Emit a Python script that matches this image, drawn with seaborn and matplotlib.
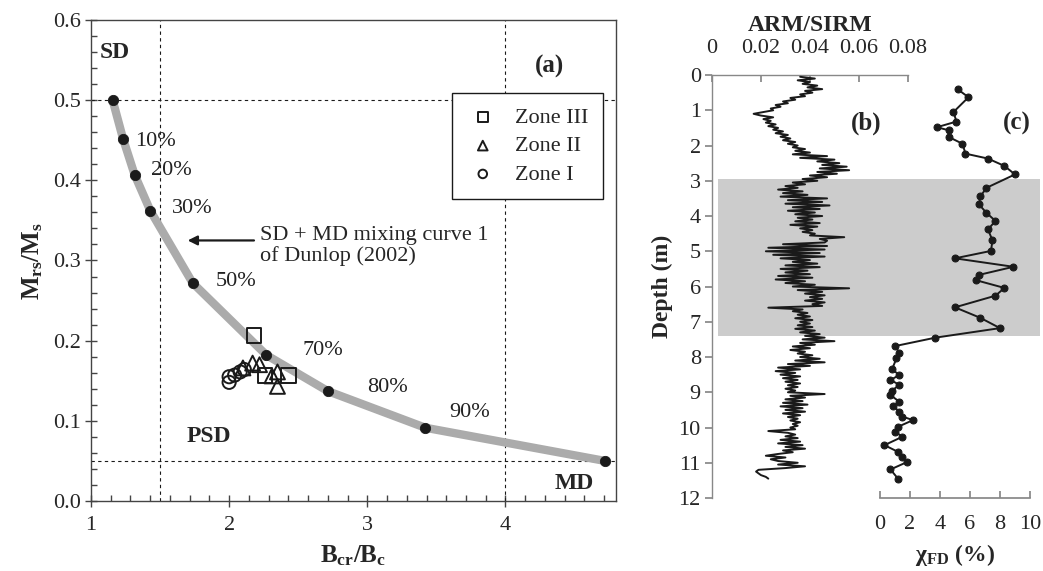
import numpy as np
import pandas as pd
import matplotlib
matplotlib.use("Agg")
import matplotlib.pyplot as plt
import seaborn as sns
from matplotlib.ticker import FixedLocator, FixedFormatter, AutoMinorLocator

# ---------------- data: panel (a) ----------------
bcr_curve = [1.157, 1.232, 1.316, 1.43, 1.736, 2.27, 2.715, 3.42, 4.72]
mrs_curve = [0.500, 0.452, 0.407, 0.362, 0.272, 0.182, 0.137, 0.0914, 0.050]
pct_labels = ["10%", "20%", "30%", "50%", "70%", "80%", "90%"]
pct_x = [1.32, 1.436, 1.586, 1.90, 2.53, 3.00, 3.59]
pct_y = [0.448, 0.412, 0.365, 0.274, 0.188, 0.141, 0.111]

z3_x = [2.18, 2.43, 2.26]
z3_y = [0.206, 0.157, 0.157]
z2_x = [2.17, 2.22, 2.31, 2.35, 2.35, 2.10]
z2_y = [0.172, 0.170, 0.156, 0.161, 0.143, 0.166]
z1_x = [2.00, 2.00, 2.04, 2.08, 2.11]
z1_y = [0.155, 0.148, 0.157, 0.161, 0.164]

a_xticks = [1, 2, 3, 4]
a_xticklabels = ["1", "2", "3", "4"]
a_yticks = [0.0, 0.1, 0.2, 0.3, 0.4, 0.5, 0.6]
a_yticklabels = ["0.0", "0.1", "0.2", "0.3", "0.4", "0.5", "0.6"]

# ---------------- data: panel (b) ----------------
depth_b = [
    0.05, 0.10, 0.15, 0.20, 0.25, 0.30, 0.35, 0.40, 0.45, 0.50, 0.55, 0.60, 0.65, 0.70, 0.75, 0.80, 0.85, 0.90, 0.95, 1.00,
    1.05, 1.10, 1.15, 1.20, 1.25, 1.30, 1.35, 1.40, 1.45, 1.50, 1.55, 1.60, 1.65, 1.70, 1.75, 1.80, 1.85, 1.90, 1.95, 2.00,
    2.05, 2.10, 2.15, 2.20, 2.25, 2.30, 2.35, 2.40, 2.45, 2.50, 2.55, 2.60, 2.65, 2.70, 2.75, 2.80, 2.85, 2.90, 2.95, 3.00,
    3.05, 3.10, 3.15, 3.20, 3.25, 3.30, 3.35, 3.40, 3.45, 3.50, 3.55, 3.60, 3.65, 3.70, 3.75, 3.80, 3.85, 3.90, 3.95, 4.00,
    4.05, 4.10, 4.15, 4.20, 4.25, 4.30, 4.35, 4.40, 4.45, 4.50, 4.55, 4.60, 4.65, 4.70, 4.75, 4.80, 4.85, 4.90, 4.95, 5.00,
    5.05, 5.10, 5.15, 5.20, 5.25, 5.30, 5.35, 5.40, 5.45, 5.50, 5.55, 5.60, 5.65, 5.70, 5.75, 5.80, 5.85, 5.90, 5.95, 6.00,
    6.05, 6.10, 6.15, 6.20, 6.25, 6.30, 6.35, 6.40, 6.45, 6.50, 6.55, 6.60, 6.65, 6.70, 6.75, 6.80, 6.85, 6.90, 6.95, 7.00,
    7.05, 7.10, 7.15, 7.20, 7.25, 7.30, 7.35, 7.40, 7.45, 7.50, 7.55, 7.60, 7.65, 7.70, 7.75, 7.80, 7.85, 7.90, 7.95, 8.00,
    8.05, 8.10, 8.15, 8.20, 8.25, 8.30, 8.35, 8.40, 8.45, 8.50, 8.55, 8.60, 8.65, 8.70, 8.75, 8.80, 8.85, 8.90, 8.95, 9.00,
    9.05, 9.10, 9.15, 9.20, 9.25, 9.30, 9.35, 9.40, 9.45, 9.50, 9.55, 9.60, 9.65, 9.70, 9.75, 9.80, 9.85, 9.90, 9.95, 10.00,
    10.05, 10.10, 10.15, 10.20, 10.25, 10.30, 10.35, 10.40, 10.45, 10.50, 10.55, 10.60, 10.65, 10.70, 10.75, 10.80, 10.85, 10.90, 10.95, 11.00,
    11.05, 11.10, 11.15, 11.20, 11.25, 11.30, 11.35, 11.40, 11.45,
]
arm_b = [
    0.036, 0.042, 0.035, 0.040, 0.037, 0.043, 0.039, 0.045, 0.038, 0.041, 0.036, 0.038, 0.032, 0.034, 0.029, 0.031, 0.026, 0.028, 0.024, 0.025,
    0.021, 0.017, 0.020, 0.025, 0.021, 0.024, 0.022, 0.026, 0.023, 0.027, 0.025, 0.029, 0.026, 0.031, 0.028, 0.032, 0.029, 0.034, 0.031, 0.035,
    0.033, 0.038, 0.034, 0.040, 0.033, 0.047, 0.036, 0.050, 0.043, 0.052, 0.045, 0.055, 0.044, 0.056, 0.043, 0.051, 0.040, 0.047, 0.037, 0.043,
    0.033, 0.038, 0.030, 0.035, 0.027, 0.037, 0.029, 0.039, 0.028, 0.047, 0.031, 0.045, 0.030, 0.048, 0.033, 0.044, 0.031, 0.042, 0.034, 0.045,
    0.035, 0.041, 0.034, 0.044, 0.032, 0.043, 0.036, 0.041, 0.037, 0.042, 0.040, 0.054, 0.044, 0.047, 0.046, 0.029, 0.047, 0.023, 0.046, 0.022,
    0.044, 0.025, 0.046, 0.028, 0.040, 0.033, 0.043, 0.030, 0.044, 0.028, 0.039, 0.030, 0.040, 0.027, 0.041, 0.026, 0.038, 0.030, 0.042, 0.033,
    0.056, 0.035, 0.045, 0.038, 0.046, 0.040, 0.045, 0.038, 0.046, 0.041, 0.045, 0.023, 0.037, 0.033, 0.039, 0.035, 0.040, 0.034, 0.041, 0.036,
    0.040, 0.035, 0.041, 0.034, 0.042, 0.036, 0.044, 0.038, 0.046, 0.037, 0.050, 0.036, 0.042, 0.033, 0.040, 0.032, 0.038, 0.035, 0.041, 0.036,
    0.044, 0.034, 0.046, 0.031, 0.040, 0.027, 0.036, 0.026, 0.034, 0.028, 0.036, 0.029, 0.035, 0.030, 0.036, 0.031, 0.035, 0.030, 0.034, 0.031,
    0.046, 0.032, 0.038, 0.030, 0.037, 0.029, 0.039, 0.028, 0.037, 0.030, 0.038, 0.029, 0.036, 0.031, 0.035, 0.032, 0.036, 0.033, 0.035, 0.032,
    0.034, 0.023, 0.031, 0.034, 0.030, 0.035, 0.028, 0.036, 0.027, 0.037, 0.030, 0.038, 0.029, 0.033, 0.027, 0.022, 0.030, 0.024, 0.027, 0.035,
    0.027, 0.038, 0.030, 0.019, 0.018, 0.019, 0.020, 0.022, 0.023,
]
arm_ticks = [0, 0.02, 0.04, 0.06, 0.08]
arm_ticklabels = ["0", "0.02", "0.04", "0.06", "0.08"]
depth_ticks = list(range(0, 13))
depth_ticklabels = [str(d) for d in depth_ticks]
shade_top, shade_bottom = 2.95, 7.40

# ---------------- data: panel (c) ----------------
depth_c = [0.41, 0.63, 1.05, 1.32, 1.48, 1.57, 1.76, 1.95, 2.23, 2.37, 2.58, 2.82,
           3.20, 3.44, 3.67, 3.91, 4.14, 4.38, 4.69, 4.99, 5.20, 5.44, 5.67, 5.82,
           6.04, 6.26, 6.59, 6.89, 7.18, 7.45, 7.69, 7.88, 8.04, 8.35, 8.51, 8.65,
           8.79, 8.95, 9.08, 9.27, 9.40, 9.55, 9.69, 9.79, 9.98, 10.12, 10.26, 10.50,
           10.69, 10.85, 10.98, 11.19, 11.45]
chi_c = [5.2, 5.9, 4.9, 5.1, 3.8, 4.6, 4.6, 5.5, 5.7, 7.2, 8.3, 9.0,
         7.1, 6.7, 6.6, 7.1, 7.7, 7.2, 7.5, 7.4, 5.0, 8.9, 6.6, 6.4,
         8.3, 7.7, 5.0, 6.7, 8.0, 3.7, 1.0, 1.3, 1.1, 0.8, 1.3, 0.7,
         1.3, 0.8, 0.7, 1.3, 0.9, 1.3, 1.5, 2.2, 1.2, 1.0, 1.5, 0.3,
         1.2, 1.5, 1.8, 0.7, 1.2]
chi_ticks = [0, 2, 4, 6, 8, 10]
chi_ticklabels = ["0", "2", "4", "6", "8", "10"]

# ---------------- style ----------------
sns.set_theme(style="ticks")
plt.rcParams["font.family"] = ["Liberation Serif", "DejaVu Serif"]
plt.rcParams["mathtext.fontset"] = "custom"
plt.rcParams["mathtext.rm"] = "Liberation Serif"
plt.rcParams["mathtext.it"] = "Liberation Serif:italic"
plt.rcParams["mathtext.bf"] = "Liberation Serif:bold"
FS = 16
FL = 17
plt.rcParams["font.size"] = FS

fig = plt.figure(figsize=(10.43, 5.71), dpi=100)
ax_a = fig.add_axes([0.0872, 0.1226, 0.5034, 0.8424])
ax_b = fig.add_axes([0.6826, 0.1278, 0.1879, 0.7408])
ax_c = fig.add_axes([0.8437, 0.1278, 0.1438, 0.7408])

# ---------------- panel (a) ----------------
dash = (0, (3, 3))
for xv in [1.5, 4.0]:
    ax_a.axvline(xv, color="k", lw=0.8, ls=dash, zorder=1)
for yv in [0.5, 0.05]:
    ax_a.axhline(yv, color="k", lw=0.8, ls=dash, zorder=1)

sns.lineplot(x=bcr_curve, y=mrs_curve, ax=ax_a, color="#ababab", lw=6,
             sort=False, estimator=None, zorder=2)
sns.scatterplot(x=bcr_curve, y=mrs_curve, ax=ax_a, color="k", s=55,
                edgecolor="k", zorder=3)

sns.scatterplot(x=z3_x, y=z3_y, ax=ax_a, marker="s", s=115, facecolor="none",
                edgecolor="k", linewidth=1.4, label="Zone III", zorder=4)
sns.scatterplot(x=z2_x, y=z2_y, ax=ax_a, marker="^", s=115, facecolor="none",
                edgecolor="k", linewidth=1.4, label="Zone II", zorder=4)
sns.scatterplot(x=z1_x, y=z1_y, ax=ax_a, marker="o", s=90, facecolor="none",
                edgecolor="k", linewidth=1.4, label="Zone I", zorder=4)

for t, xx, yy in zip(pct_labels, pct_x, pct_y):
    ax_a.text(xx, yy, t, ha="left", va="center", fontsize=FS, color="#222222")

ax_a.text(1.06, 0.56, "SD", fontweight="bold", fontsize=FL, ha="left", va="center")
ax_a.text(4.32, 0.542, "(a)", fontweight="bold", fontsize=FL + 1, ha="center", va="center")
ax_a.text(4.5, 0.022, "MD", fontweight="bold", fontsize=FL, ha="center", va="center")
ax_a.text(1.85, 0.081, "PSD", fontweight="bold", fontsize=FL, ha="center", va="center")
ax_a.annotate("", xy=(1.68, 0.325), xytext=(2.2, 0.325),
              arrowprops=dict(arrowstyle="-|>", color="k", lw=1.6, mutation_scale=14))
ax_a.text(2.22, 0.318, "SD + MD mixing curve 1\nof Dunlop (2002)", ha="left",
          va="center", fontsize=FS, linespacing=1.05)

leg = ax_a.legend(loc="upper left", bbox_to_anchor=(0.687, 0.848), frameon=True,
                  fancybox=False, edgecolor="k", framealpha=1, fontsize=FS,
                  handletextpad=0.7, borderpad=0.65, labelspacing=0.35,
                  markerscale=0.65, handlelength=1.5, borderaxespad=0)
leg.get_frame().set_linewidth(1.0)

ax_a.set_xlim(1, 4.8)
ax_a.set_ylim(0, 0.6)
ax_a.xaxis.set_major_locator(FixedLocator(a_xticks))
ax_a.xaxis.set_major_formatter(FixedFormatter(a_xticklabels))
ax_a.yaxis.set_major_locator(FixedLocator(a_yticks))
ax_a.yaxis.set_major_formatter(FixedFormatter(a_yticklabels))
ax_a.xaxis.set_minor_locator(AutoMinorLocator(7))
ax_a.yaxis.set_minor_locator(AutoMinorLocator(5))
ax_a.tick_params(which="major", direction="inout", length=8, width=1,
                 labelsize=FS, color="#444444", pad=3)
ax_a.tick_params(axis="x", which="major", pad=7)
ax_a.tick_params(which="minor", direction="in", length=4, width=1, color="#444444")
for s in ax_a.spines.values():
    s.set_color("#444444")
    s.set_linewidth(1.0)
ax_a.set_xlabel(r"$\mathbf{B_{cr}/B_c}$", fontsize=FL + 1, labelpad=6)
ax_a.set_ylabel(r"$\mathbf{M_{rs}/M_s}$", fontsize=FL + 1, labelpad=6)

# ---------------- panel (b) ----------------
ax_b.axhspan(shade_top, shade_bottom, xmin=0.03, xmax=1.675, color="#cccccc",
             lw=0, clip_on=False, zorder=0)
sns.lineplot(x=arm_b, y=depth_b, ax=ax_b, sort=False, estimator=None,
             color="k", lw=1.4, zorder=3)
ax_b.set_xlim(0, 0.08)
ax_b.set_ylim(12, 0)
ax_b.xaxis.tick_top()
ax_b.xaxis.set_label_position("top")
ax_b.xaxis.set_major_locator(FixedLocator(arm_ticks))
ax_b.xaxis.set_major_formatter(FixedFormatter(arm_ticklabels))
ax_b.yaxis.set_major_locator(FixedLocator(depth_ticks))
ax_b.yaxis.set_major_formatter(FixedFormatter(depth_ticklabels))
ax_b.tick_params(axis="x", direction="in", length=5, color="#888888", labelsize=FS, pad=12)
ax_b.tick_params(axis="y", direction="out", length=5, color="#888888", labelsize=FS, pad=3)
ax_b.spines["right"].set_visible(False)
ax_b.spines["bottom"].set_visible(False)
for k in ["left", "top"]:
    ax_b.spines[k].set_color("#888888")
    ax_b.spines[k].set_linewidth(1.0)
ax_b.patch.set_alpha(0)
ax_b.set_xlabel("ARM/SIRM", fontweight="bold", fontsize=FL, labelpad=6)
ax_b.set_ylabel("Depth (m)", fontweight="bold", fontsize=FL, labelpad=4)
ax_b.text(0.063, 1.38, "(b)", fontweight="bold", fontsize=FL + 1, ha="center", va="center")

# ---------------- panel (c) ----------------
sns.lineplot(x=chi_c, y=depth_c, ax=ax_c, sort=False, estimator=None, color="k",
             lw=1.4, marker="o", markersize=5, markeredgecolor="k", zorder=3)
ax_c.set_xlim(0, 10)
ax_c.set_ylim(12, 0)
ax_c.patch.set_alpha(0)
for k in ["left", "top", "right"]:
    ax_c.spines[k].set_visible(False)
ax_c.spines["bottom"].set_color("#888888")
ax_c.xaxis.set_major_locator(FixedLocator(chi_ticks))
ax_c.xaxis.set_major_formatter(FixedFormatter(chi_ticklabels))
ax_c.set_yticks([])
ax_c.tick_params(axis="x", direction="in", length=5, color="#888888", labelsize=FS, pad=12)
ax_c.set_xlabel(r"$\mathbf{\chi_{FD}}$ (%)", fontweight="bold", fontsize=FL, labelpad=6)
ax_c.set_ylabel("")
ax_c.text(9.1, 1.38, "(c)", fontweight="bold", fontsize=FL + 1, ha="center", va="center")

fig.savefig("out.png", dpi=100)
